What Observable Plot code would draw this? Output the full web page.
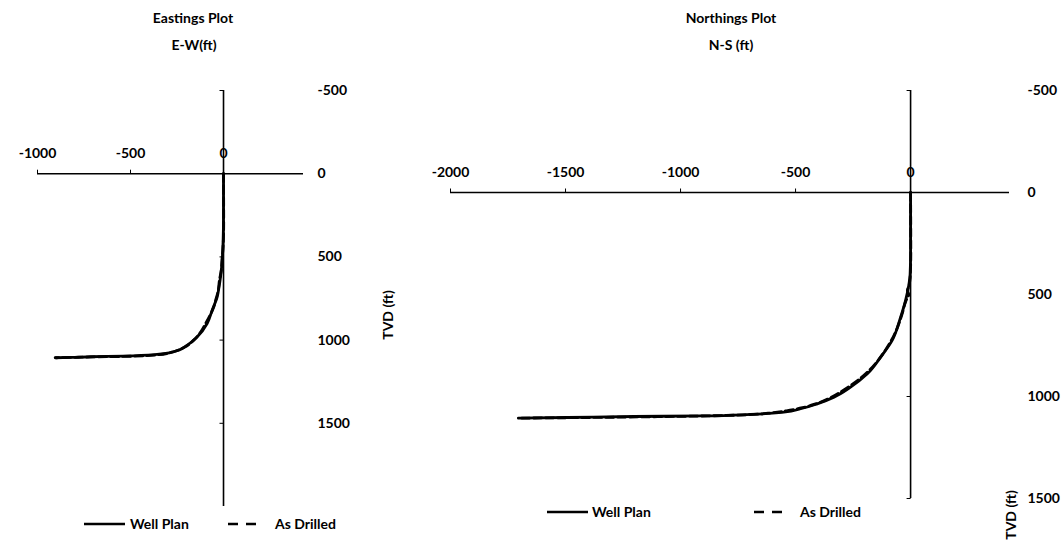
<!DOCTYPE html>
<html>
<head>
<meta charset="utf-8">
<script src="https://cdn.jsdelivr.net/npm/d3@7"></script>
<script src="https://cdn.jsdelivr.net/npm/@observablehq/plot@0.6"></script>
<style>
  html, body { margin: 0; padding: 0; background: #fff; }
  #root { position: relative; width: 1062px; height: 545px; overflow: hidden;
          font-family: Lato, "Open Sans", sans-serif; font-weight: bold; color: #000; }
  .abs { position: absolute; white-space: nowrap; font-size: 14px; line-height: 1; }
  .c { transform: translate(-50%, -50%); }
  .l { transform: translate(0, -50%); }
  .rot { transform: translate(-50%, -50%) rotate(-90deg); }
  .panel { position: absolute; top: 0; }
  svg.leg { position: absolute; overflow: visible; }
</style>
</head>
<body>
<div id="root"></div>
<script>
// ---------- data ----------
const eastTicksX = [-1000, -500, 0];
const eastTicksY = [-500, 0, 500, 1000, 1500];
const northTicksX = [-2000, -1500, -1000, -500, 0];
const northTicksY = [-500, 0, 500, 1000, 1500];

// Eastings: Well Plan (TVD ft, E-W ft)
const eastPlanTVD = [0, 250, 400, 480, 560, 620, 680, 740, 820, 900, 980, 1030, 1070, 1086, 1096, 1100, 1104, 1106];
const eastPlanEW  = [0, 0, -2, -5, -10, -16, -24, -34, -61, -88, -141, -195, -267, -357, -536, -715, -820, -905];
// Eastings: As Drilled
const eastDrillTVD = [0, 300, 450, 520, 580, 640, 700, 760, 800, 850, 900, 950, 1000, 1040, 1070, 1088, 1097, 1101, 1104, 1106];
const eastDrillEW  = [0, 1, -3, -8, -12, -22, -28, -42, -52, -72, -96, -122, -160, -205, -270, -350, -500, -700, -820, -900];

// Northings: Well Plan (TVD ft, N-S ft)
const northPlanTVD = [0, 300, 400, 450, 530, 610, 725, 807, 889, 954, 1003, 1036, 1060, 1077, 1088, 1095, 1098, 1103, 1106];
const northPlanNS  = [0, 0, -2, -7, -22, -43, -80, -130, -188, -261, -333, -406, -478, -551, -696, -913, -1203, -1493, -1705];
// Northings: As Drilled
const northDrillTVD = [0, 300, 420, 460, 480, 500, 530, 600, 700, 790, 870, 930, 975, 1010, 1035, 1055, 1070, 1082, 1090, 1095, 1099, 1103, 1106];
const northDrillNS  = [0, 1, -2, -8, -14, -8, -20, -38, -72, -120, -178, -240, -300, -355, -410, -470, -540, -620, -720, -880, -1100, -1400, -1690];

const series = ["Well Plan", "As Drilled"];

// ---------- helpers ----------
const zip = (ys, xs) => ys.map((y, i) => ({x: xs[i], y}));
const tickUp = {draw(ctx) { ctx.moveTo(0, -4); ctx.lineTo(0, 0); }};
const tickLeft = {draw(ctx) { ctx.moveTo(-4, 0); ctx.lineTo(0, 0); }};

function panel(o) {
  return Plot.plot({
    width: o.width, height: 545,
    marginTop: o.mt, marginBottom: o.mb, marginLeft: o.ml, marginRight: o.mr,
    x: {domain: o.xDomain, axis: null},
    y: {domain: o.yDomain, reverse: true},
    style: {fontFamily: "Lato, 'Open Sans', sans-serif", fontSize: "14px", fontWeight: "bold",
            background: "transparent", overflow: "visible", color: "#000"},
    marks: [
      Plot.ruleY([0], {stroke: "#000", strokeWidth: 1.6}),
      Plot.ruleX([0], {stroke: "#000", strokeWidth: 1.6}),
      Plot.dot(o.xTicks.filter(d => d !== 0), {x: d => d, y: () => 0, symbol: tickUp, stroke: "#000", fill: "none", strokeWidth: 1}),
      Plot.dot(o.yTicks.filter(d => d !== 0), {x: () => 0, y: d => d, symbol: tickLeft, stroke: "#000", fill: "none", strokeWidth: 1}),
      Plot.text(o.xTicks, {x: d => d, y: () => 0, dy: -20, text: d => String(d), fill: "#000"}),
      Plot.axisY(o.yTicks, {anchor: "right", tickSize: 0, tickPadding: o.pad, tickFormat: d => String(d), label: null, fill: "#000"}),
      Plot.line(o.drilled, {x: "x", y: "y", stroke: "#000", strokeWidth: 2.8, strokeDasharray: "8,4", curve: "monotone-y"}),
      Plot.line(o.plan, {x: "x", y: "y", stroke: "#000", strokeWidth: 2.8, curve: "monotone-y"})
    ]
  });
}

const root = document.getElementById("root");

const left = panel({
  width: 430, mt: 90, mb: 545 - 506, ml: 37, mr: 430 - 303,
  xDomain: [-1000, 430], yDomain: [-500, 2000],
  xTicks: eastTicksX, yTicks: eastTicksY, pad: 14,
  plan: zip(eastPlanTVD, eastPlanEW), drilled: zip(eastDrillTVD, eastDrillEW)
});
left.classList.add("panel");
left.style.left = "0px";
root.appendChild(left);

const right = panel({
  width: 632, mt: 90, mb: 545 - 498, ml: 450 - 430, mr: 632 - (1009 - 430),
  xDomain: [-2000, 430], yDomain: [-500, 1500],
  xTicks: northTicksX, yTicks: northTicksY, pad: 18,
  plan: zip(northPlanTVD, northPlanNS), drilled: zip(northDrillTVD, northDrillNS)
});
right.classList.add("panel");
right.style.left = "430px";
root.appendChild(right);

// ---------- titles ----------
function label(text, x, y, cls) {
  const d = document.createElement("div");
  d.className = "abs " + cls;
  d.style.left = x + "px"; d.style.top = y + "px";
  d.textContent = text;
  root.appendChild(d);
}
label("Eastings Plot", 193, 18, "c");
label("E-W(ft)", 194, 45, "c");
label("TVD (ft)", 388, 315, "rot");
label("Northings Plot", 731, 18, "c");
label("N-S (ft)", 731, 45, "c");
label("TVD (ft)", 1011, 515, "rot");

// ---------- legends ----------
function legendLine(x1, x2, y, dashed) {
  const ns = "http://www.w3.org/2000/svg";
  const s = document.createElementNS(ns, "svg");
  s.setAttribute("class", "leg");
  s.setAttribute("width", x2 - x1); s.setAttribute("height", 4);
  s.style.left = x1 + "px"; s.style.top = (y - 2) + "px";
  const l = document.createElementNS(ns, "line");
  l.setAttribute("x1", 0); l.setAttribute("x2", x2 - x1);
  l.setAttribute("y1", 2); l.setAttribute("y2", 2);
  l.setAttribute("stroke", "#000"); l.setAttribute("stroke-width", 2.6);
  if (dashed) l.setAttribute("stroke-dasharray", "10,8");
  s.appendChild(l);
  root.appendChild(s);
}
legendLine(84, 125, 524, false); label(series[0], 130, 524, "l");
legendLine(228, 264, 524, true); label(series[1], 275, 524, "l");
legendLine(547, 588, 512, false); label(series[0], 592, 512, "l");
legendLine(754, 788, 512, true); label(series[1], 800, 512, "l");
</script>
</body>
</html>
